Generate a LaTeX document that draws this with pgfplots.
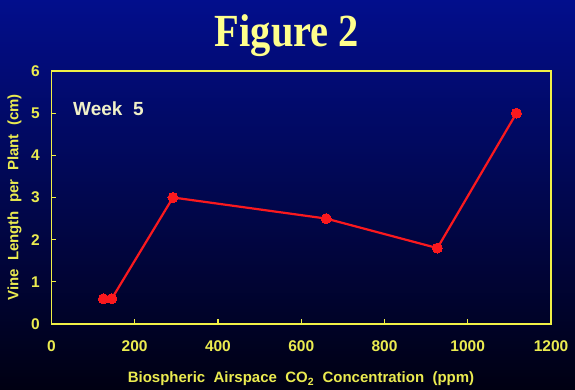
\documentclass[border=0pt]{standalone}
\usepackage{pgfplots}
\pgfplotsset{compat=1.18}
\usepackage{graphicx}
\usepackage{fontspec}
\setmainfont{Liberation Sans}
\newfontfamily\titlefont{Liberation Serif}
\definecolor{bgtop}{RGB}{2,14,140}
\definecolor{bgmid}{RGB}{1,6,92}
\definecolor{bgbot}{RGB}{0,0,18}
\definecolor{titleyellow}{RGB}{255,255,140}
\definecolor{axyellow}{RGB}{240,240,70}
\definecolor{labyellow}{RGB}{235,235,80}
\definecolor{weekcol}{RGB}{240,240,200}
\definecolor{linered}{RGB}{250,25,30}
\begin{document}
\begin{tikzpicture}
\shade[top color=bgtop, middle color=bgmid, bottom color=bgbot] (0pt,0pt) rectangle (575pt,390pt);
\node[anchor=base, text=titleyellow, inner sep=0pt] at (287pt,343pt)
  {\scalebox{0.88}[1]{\titlefont\bfseries\fontsize{46}{46}\selectfont Figure 2}};
\begin{axis}[
  at={(51.4pt,66pt)}, anchor=south west,
  scale only axis, width=499.6pt, height=253pt,
  xmin=0, xmax=1200, ymin=0, ymax=6,
  xtick={0,200,...,1200}, ytick={0,1,...,6},
  xtick pos=bottom, ytick pos=left, tick align=inside,
  major tick length=5pt,
  axis line style={axyellow, line width=1.6pt},
  tick style={axyellow, line width=1.3pt},
  ticklabel style={font=\bfseries\fontsize{15.5}{15.5}\selectfont, text=labyellow},
  /pgf/number format/assume math mode=true,
  /pgf/number format/set thousands separator={},
  xticklabel style={yshift=-13pt},
  yticklabel style={xshift=-8pt},
]
\addplot[linered, line width=2.2pt, mark=*, mark size=5pt, mark options={fill=linered, draw=linered, line width=0pt}]
  coordinates {(125,0.6) (145,0.6) (292,3.0) (660,2.5) (927,1.8) (1117,5.0)};
\end{axis}
\node[anchor=west, inner sep=0pt, text=weekcol, font=\bfseries\fontsize{19}{19}\selectfont] at (73pt,281pt) {Week\ \ 5};
\node[text=labyellow, font=\bfseries\fontsize{15}{15}\selectfont, inner sep=0pt] at (301pt,11pt)
  {Biospheric\ \ Airspace\ \ CO\textsubscript{2}\ \ Concentration\ \ (ppm)};
\node[text=labyellow, font=\bfseries\fontsize{15}{15}\selectfont, inner sep=0pt, rotate=90] at (14.5pt,192.5pt)
  {Vine\ \ Length\ \ per\ \ Plant\ \ (cm)};
\end{tikzpicture}
\end{document}
